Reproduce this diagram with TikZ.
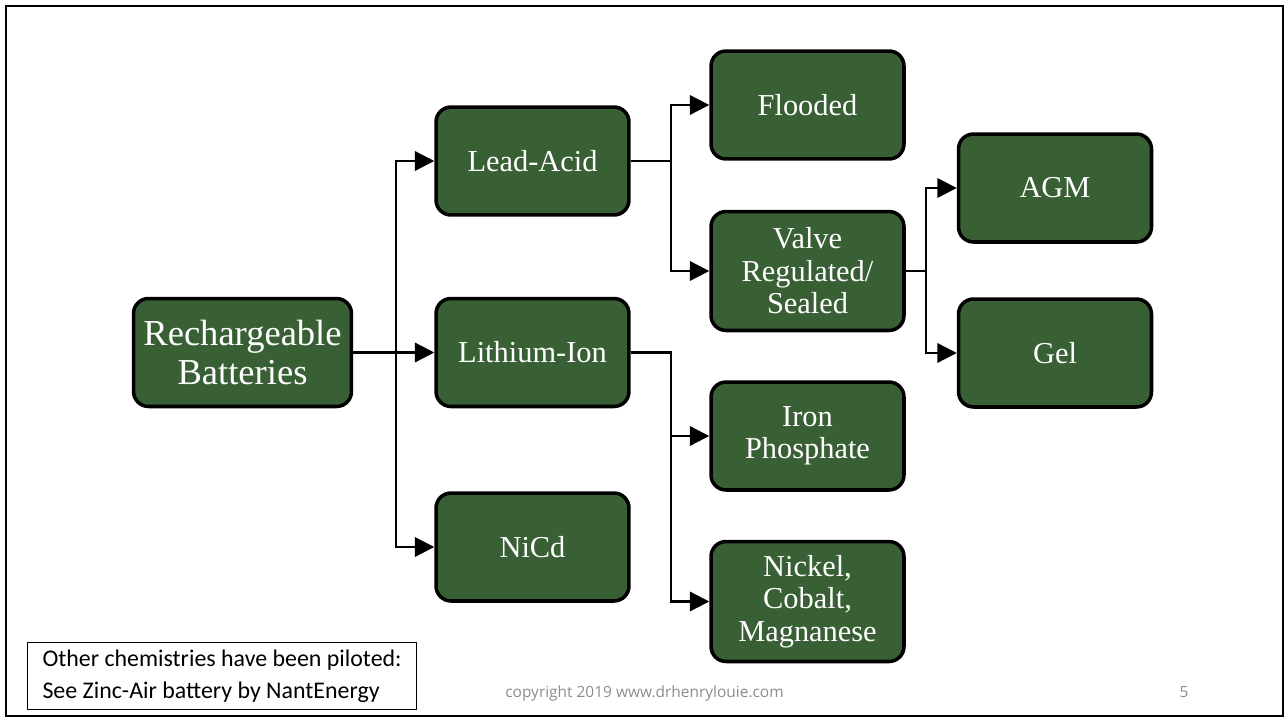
\documentclass[tikz,border=0pt]{standalone}
\usepackage{fontspec}
\setmainfont{Liberation Serif}
\newfontfamily\notefont{Carlito}
\newfontfamily\footfont{Open Sans}
\usetikzlibrary{arrows.meta, positioning, calc}
\definecolor{batgreen}{RGB}{57,95,53}
\definecolor{footgray}{RGB}{140,140,140}

\begin{document}
\begin{tikzpicture}[x=0.02cm, y=-0.02cm,
  chem/.style={draw=black, line width=2pt, fill=batgreen, rounded corners=0.3cm, text=white, align=center,
    minimum width=3.86cm, minimum height=2.16cm, font=\fontsize{17.3}{18.5}\selectfont},
  link/.style={line width=1.3pt, -{Triangle[length=11pt,width=11pt]}}]
% Slide frame
\useasboundingbox (0,0) rectangle (1287,720);
\draw[line width=1.4pt] (6,6) rectangle (1283,716);

% Root
\node[chem, minimum width=4.36cm, font=\fontsize{20.8}{22.5}\selectfont] (rech) at (242.5,352.5) {Rechargeable\\Batteries};

% Battery families
\node[chem] (lead) at (532.5,161) {Lead-Acid};
\node[chem] (lith) at (532.5,352.5) {Lithium-Ion};
\node[chem] (nicd) at (532.5,547) {NiCd};

% Lead-acid and lithium-ion types
\node[chem] (flood) at (807.5,105) {Flooded};
\node[chem, minimum height=2.38cm] (valve) at (807.5,271) {Valve\\Regulated/\\Sealed};
\node[chem] (iron) at (807.5,436) {Iron\\Phosphate};
\node[chem, minimum height=2.4cm] (nmc) at (807.5,601.5) {Nickel,\\Cobalt,\\Magnanese};

% Sealed types
\node[chem] (agm) at (1055,188) {AGM};
\node[chem] (gel) at (1055,353) {Gel};

% Connectors
\draw[link] (rech.east) -- ++(42.5,0) |- (lead.west);
\draw[link] (rech.east) -- (lith.west);
\draw[link] (rech.east) -- ++(42.5,0) |- (nicd.west);
\draw[link] (lead.east) -- ++(40,0) |- (flood.west);
\draw[link] (lead.east) -- ++(40,0) |- (valve.west);
\draw[link] (lith.east) -- ++(40,0) |- (iron.west);
\draw[link] (lith.east) -- ++(40,0) |- (nmc.west);
\draw[link] (valve.east) -- ++(20,0) |- (agm.west);
\draw[link] (valve.east) -- ++(20,0) |- (gel.west);

% Footer
\node[draw=black, line width=0.6pt, anchor=north west, align=left, inner xsep=0.3cm, minimum height=1.34cm,
  font=\notefont\fontsize{13.6}{18}\selectfont] (note) at (27,642) {Other chemistries have been piloted:\\See Zinc-Air battery by NantEnergy};
\node[font=\footfont\fontsize{8.8}{10}\selectfont, text=footgray] (foot) at (644.5,693) {copyright 2019 www.drhenrylouie.com};
\node[font=\footfont\fontsize{8.8}{10}\selectfont, text=footgray] (page) at (1184,692) {5};
\end{tikzpicture}
\end{document}
